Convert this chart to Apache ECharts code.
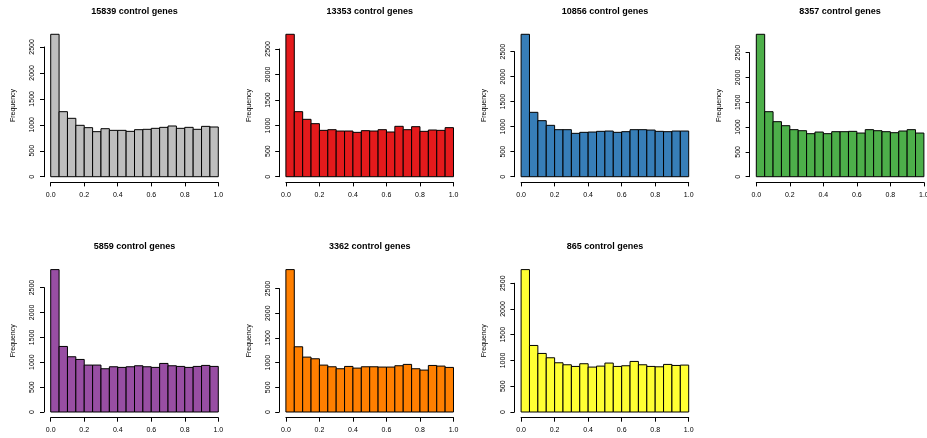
<!DOCTYPE html>
<html>
<head>
<meta charset="utf-8">
<script src="https://cdn.jsdelivr.net/npm/echarts@6/dist/echarts.min.js"></script>
<style>
    html, body { margin: 0; padding: 0; background: #fff; }
    #chart { width: 927px; height: 438px; }
</style>
</head>
<body>
<div id="chart"></div>
<script>
// bin edges: 20 bins of width 0.05 on [0, 1]
var binWidth = 0.05;
var xTicks = [0, 0.2, 0.4, 0.6, 0.8, 1.0];
var yTicks = [0, 500, 1000, 1500, 2000, 2500];

var titles = [
    "15839 control genes",
    "13353 control genes",
    "10856 control genes",
    "8357 control genes",
    "5859 control genes",
    "3362 control genes",
    "865 control genes"
];
var colors = ["#BEBEBE", "#E41A1C", "#377EB8", "#4DAF4A", "#984EA3", "#FF7F00", "#FFFF33"];

var counts15839 = [2744, 1253, 1125, 990, 945, 868, 925, 893, 893, 874, 906, 913, 932, 951, 977, 932, 951, 913, 970, 958];
var counts13353 = [2787, 1273, 1123, 1038, 907, 920, 894, 894, 868, 901, 894, 920, 875, 986, 920, 979, 888, 914, 907, 960];
var counts10856 = [2847, 1287, 1120, 1027, 940, 940, 867, 887, 893, 907, 913, 887, 900, 940, 940, 933, 907, 900, 913, 913];
var counts8357 = [2870, 1310, 1109, 1028, 948, 927, 867, 900, 867, 907, 907, 914, 880, 948, 927, 907, 887, 921, 948, 880];
var counts5859 = [2861, 1317, 1110, 1056, 943, 943, 869, 909, 896, 909, 929, 909, 896, 976, 929, 916, 896, 916, 936, 916];
var counts3362 = [2884, 1321, 1112, 1078, 950, 916, 876, 923, 889, 916, 916, 910, 910, 937, 964, 876, 849, 943, 930, 903];
var counts865 = [2765, 1292, 1137, 1053, 956, 917, 885, 937, 872, 891, 950, 885, 898, 982, 917, 885, 878, 924, 904, 911];

var allCounts = [counts15839, counts13353, counts10856, counts8357, counts5859, counts3362, counts865];

// plot region layout (R style, 4% padding on each axis)
var plotLeft = 44, plotTop = 28.6, plotW = 181, plotH = 153.8;
var pitchX = 235.2, pitchY = 235.3;
var pad = 0.04;
var font = "Liberation Sans, Arial, sans-serif";

var chart = echarts.init(document.getElementById("chart"));

var option = {
    backgroundColor: "#fff",
    animation: false,
    title: [],
    grid: [],
    xAxis: [],
    yAxis: [],
    series: []
};

allCounts.forEach(function (counts, p) {
    var col = p % 4, row = Math.floor(p / 4);
    var left = plotLeft + col * pitchX;
    var top = plotTop + row * pitchY;
    var maxVal = Math.max.apply(null, counts);
    var yMin = -pad * maxVal, yMax = (1 + pad) * maxVal;
    var yScale = plotH / (yMax - yMin);
    var last = yTicks[yTicks.length - 1];

    option.title.push({
        text: titles[p],
        left: left + plotW / 2,
        top: top - 22,
        padding: 0,
        textAlign: "center",
        textStyle: { fontFamily: font, fontSize: 9, fontWeight: "bold", color: "#000" }
    });

    // main plot region (bars)
    var gMain = option.grid.length;
    option.grid.push({ left: left, top: top, width: plotW, height: plotH, containLabel: false, outerBoundsMode: "none" });
    option.xAxis.push({ gridIndex: gMain, type: "value", min: -pad, max: 1 + pad, show: false });
    option.yAxis.push({
        gridIndex: gMain, type: "value", min: yMin, max: yMax,
        name: "Frequency", nameLocation: "middle", nameGap: 27, nameRotate: 90,
        nameTextStyle: { fontFamily: font, fontSize: 7, color: "#000" },
        axisLine: { show: false }, axisTick: { show: false },
        axisLabel: { show: false }, splitLine: { show: false }
    });

    // y axis, only spanning 0..2500 like R
    var gY = option.grid.length;
    option.grid.push({
        left: left, width: 10,
        top: top + (yMax - last) * yScale,
        height: (last - 0) * yScale,
        containLabel: false, outerBoundsMode: "none"
    });
    option.xAxis.push({ gridIndex: gY, type: "value", show: false });
    option.yAxis.push({
        gridIndex: gY, type: "value", min: 0, max: last, interval: 500,
        axisLine: { show: true, lineStyle: { color: "#000", width: 1 } },
        axisTick: { show: true, length: 4, lineStyle: { color: "#000" } },
        axisLabel: {
            rotate: 90, margin: 8, fontFamily: font, fontSize: 7, color: "#000",
            formatter: function (v) { return String(v); }
        },
        splitLine: { show: false }
    });

    // x axis, spanning 0..1
    var gX = option.grid.length;
    var unitW = plotW / (1 + 2 * pad);
    option.grid.push({
        left: left + pad * unitW, width: unitW,
        top: top + plotH - 10, height: 10,
        containLabel: false, outerBoundsMode: "none"
    });
    option.xAxis.push({
        gridIndex: gX, type: "value", min: 0, max: 1, interval: 0.2,
        axisLine: { show: true, lineStyle: { color: "#000", width: 1 } },
        axisTick: { show: true, length: 4, lineStyle: { color: "#000" } },
        axisLabel: {
            margin: 9, fontFamily: font, fontSize: 7, color: "#000",
            formatter: function (v) { return v.toFixed(1); }
        },
        splitLine: { show: false }
    });
    option.yAxis.push({ gridIndex: gX, type: "value", show: false });

    option.series.push({
        type: "custom",
        xAxisIndex: gMain,
        yAxisIndex: gMain,
        data: counts.map(function (c, i) { return [i, c]; }),
        renderItem: function (params, api) {
            var i = api.value(0);
            var p0 = api.coord([i * binWidth, api.value(1)]);
            var p1 = api.coord([(i + 1) * binWidth, 0]);
            return {
                type: "rect",
                shape: { x: p0[0], y: p0[1], width: p1[0] - p0[0], height: p1[1] - p0[1] },
                style: { fill: colors[p], stroke: "#000", lineWidth: 1 }
            };
        }
    });
});

chart.setOption(option);
</script>
</body>
</html>
